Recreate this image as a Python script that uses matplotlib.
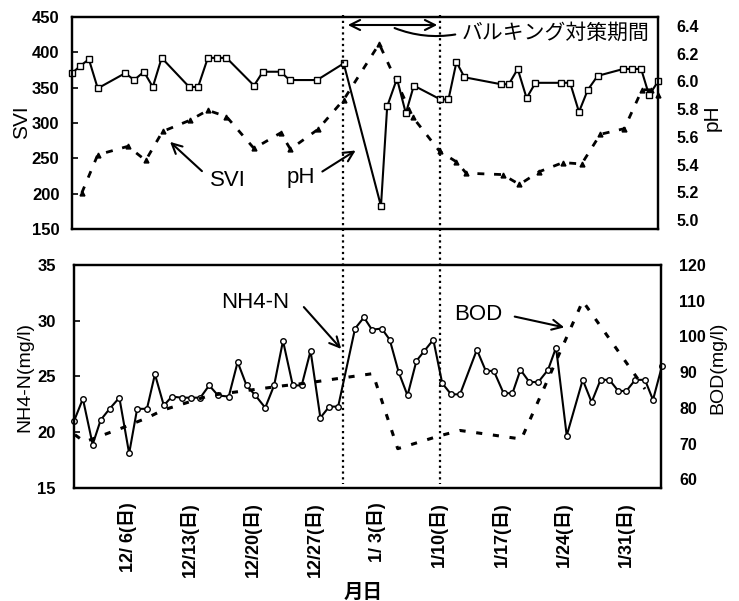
import matplotlib
matplotlib.use("Agg")
import matplotlib.pyplot as plt
from matplotlib.lines import Line2D
from matplotlib.transforms import blended_transform_factory

plt.rcParams['font.family'] = ['Liberation Sans', 'Noto Sans CJK JP']

# x = days counted from 11/30
ph_days = [0, 0.9, 1.9, 2.9, 6, 7, 8.1, 9.1, 10.1, 13.2, 14.2, 15.3, 16.3, 17.4,
           20.5, 21.5, 23.5, 24.5, 27.6, 30.6, 34.8, 35.5, 36.6, 37.6, 38.5,
           41.5, 42.4, 43.3, 44.2, 48.3, 49.2, 50.2, 51.2, 52.2, 55.1, 56.1,
           57.1, 58.1, 59.2, 62.1, 63.1, 64.1, 65, 66]
ph_values = [6.06, 6.11, 6.16, 5.95, 6.06, 6.01, 6.07, 5.96, 6.17, 5.96, 5.96, 6.17, 6.17, 6.17,
             5.97, 6.07, 6.07, 6.01, 6.01, 6.13, 5.10, 5.82, 6.02, 5.77, 5.97,
             5.87, 5.87, 6.14, 6.03, 5.98, 5.98, 6.09, 5.88, 5.99, 5.99, 5.99,
             5.78, 5.94, 6.04, 6.09, 6.09, 6.09, 5.90, 6.00]

svi_days = [1.1, 2.9, 6.3, 8.3, 10.2, 13.3, 15.3, 17.4, 20.5, 23.5, 24.6, 27.7, 30.6,
            34.6, 38.4, 41.4, 43.3, 44.4, 48.5, 50.4, 52.6, 55.3, 57.4, 59.5, 62.2,
            64.2, 65.2, 66]
svi_values = [201, 255, 267, 247, 288, 304, 318, 309, 264, 286, 263, 291, 333,
              412, 308, 260, 245, 229, 227, 213, 231, 244, 242, 284, 292,
              347, 347, 340]

nh4_days = [0.0, 1.0, 2.1, 3.0, 4.0, 5.1, 6.2, 7.1, 8.2, 9.1, 10.1, 11.0, 12.1, 13.1,
            14.2, 15.2, 16.2, 17.4, 18.4, 19.4, 20.4, 21.5, 22.5, 23.5, 24.6, 25.6,
            26.6, 27.7, 28.7, 29.7, 31.6, 32.6, 33.5, 34.6, 35.5, 36.5, 37.5, 38.5,
            39.4, 40.4, 41.4, 42.4, 43.4, 45.3, 46.3, 47.2, 48.3, 49.3, 50.2, 51.2,
            52.2, 53.3, 54.2, 55.4, 57.2, 58.2, 59.2, 60.2, 61.2, 62.1, 63.1, 64.2,
            65.1, 66.1]
nh4_values = [21.0, 23.0, 18.9, 21.1, 22.1, 23.1, 18.1, 22.1, 22.1, 25.2, 22.4, 23.2, 23.1, 23.1,
              23.1, 24.2, 23.3, 23.2, 26.3, 24.2, 23.3, 22.2, 24.2, 28.2, 24.2, 24.2,
              27.3, 21.3, 22.3, 22.3, 29.3, 30.3, 29.2, 29.3, 28.3, 25.4, 23.3, 26.4,
              27.3, 28.3, 24.4, 23.4, 23.4, 27.4, 25.5, 25.5, 23.5, 23.5, 25.6, 24.5,
              24.5, 25.6, 27.6, 19.7, 24.7, 22.7, 24.7, 24.7, 23.7, 23.7, 24.7, 24.7,
              22.9, 25.9]

bod_days = [0.1, 1.2, 5.4, 8.2, 10.0, 15.3, 20.7, 23.5, 26.0, 29.6, 33.6, 36.4,
            41.1, 43.4, 46.0, 50.3, 57.2, 64.2]
bod_values = [72.5, 70.5, 74.4, 77.2, 79.4, 83.5, 85.3, 86.2, 86.9, 88.2, 89.6, 68.6,
              72.2, 73.7, 72.8, 71.3, 109.9, 85.3]

tick_days = [6, 13, 20, 27, 34, 41, 48, 55, 62]
tick_labels = ["12/ 6(日)", "12/13(日)", "12/20(日)", "12/27(日)", "1/ 3(日)",
               "1/10(日)", "1/17(日)", "1/24(日)", "1/31(日)"]
period_days = [30.5, 41.4]

W, H = 739, 601
fig = plt.figure(figsize=(W / 100, H / 100), dpi=100)


def box(l, t, r, b):
    return [l / W, 1 - b / H, (r - l) / W, (b - t) / H]


def fp(x, y):
    return (x / W, 1 - y / H)


ax1 = fig.add_axes(box(72, 17, 658, 229))
ax2 = ax1.twinx()
ax3 = fig.add_axes(box(74, 265, 661, 488))
ax4 = ax3.twinx()

# top panel: SVI (dashed) and pH (solid)
ax1.plot(svi_days, svi_values, color='black', lw=2, ls=(0, (2.5, 3.5)),
         marker='^', ms=3.5, clip_on=False)
ax2.plot(ph_days, ph_values, color='black', lw=1.5, marker='s', ms=4,
         mfc='white', mec='black', mew=1, clip_on=False)

# bottom panel: NH4-N (solid) and BOD (dashed)
ax3.plot(nh4_days, nh4_values, color='black', lw=1.5, marker='o', ms=4,
         mfc='white', mec='black', mew=1, clip_on=False)
ax4.plot(bod_days, bod_values, color='black', lw=2.2, ls=(0, (2, 3.5)), clip_on=False)

for ax in (ax1, ax3):
    ax.set_xlim(0, 66)

ax1.set_ylim(150, 450)
ax1.set_yticks(range(150, 451, 50))
ax2.set_ylim(4.935, 6.465)
ax2.set_yticks([5.0, 5.2, 5.4, 5.6, 5.8, 6.0, 6.2, 6.4])
ax2.set_yticklabels([f"{v:.1f}" for v in [5.0, 5.2, 5.4, 5.6, 5.8, 6.0, 6.2, 6.4]])
ax3.set_ylim(15, 35)
ax3.set_yticks(range(15, 36, 5))
ax4.set_ylim(57.6, 120)
ax4.set_yticks(range(60, 121, 10))

ax1.set_xticks([])
ax3.set_xticks(tick_days)
ax3.set_xticklabels(tick_labels, rotation=90, fontsize=13, fontweight='bold')
ax3.tick_params(axis='x', length=0, pad=10)

ax1.tick_params(axis='y', direction='in', length=4, width=1.2, pad=9, labelsize=12)
ax3.tick_params(axis='y', direction='in', length=4, width=1.2, pad=13, labelsize=12)
for ax in (ax2, ax4):
    ax.tick_params(axis='y', length=0, pad=13, labelsize=11.5)

for ax in (ax1, ax2, ax3, ax4):
    for lab in ax.get_yticklabels():
        lab.set_fontweight('bold')
    for sp in ax.spines.values():
        sp.set_linewidth(1.6)

# axis titles
fig.text(*fp(22, 122), "SVI", rotation=90, ha='center', va='center', fontsize=15)
fig.text(*fp(712, 118), "pH", rotation=90, ha='center', va='center', fontsize=15)
fig.text(*fp(25, 377), "NH4-N(mg/l)", rotation=90, ha='center', va='center', fontsize=14)
fig.text(*fp(718, 368), "BOD(mg/l)", rotation=90, ha='center', va='center', fontsize=14)
fig.text(*fp(363, 593), "月日", ha='center', va='center', fontsize=14, fontweight='bold')

# dotted lines marking the period
trans = blended_transform_factory(ax1.transData, fig.transFigure)
for d in period_days:
    fig.add_artist(Line2D([d, d], [1 - 15 / H, 1 - 484 / H], transform=trans,
                          color='black', lw=1.6, ls=(0, (1, 1.6))))

arrow = dict(arrowstyle='->', lw=1.5, color='black', mutation_scale=18)

# double arrow and label for the bulking countermeasure period
ax1.annotate('', xy=fp(440, 25), xytext=fp(345, 25), xycoords='figure fraction',
             textcoords='figure fraction',
             arrowprops=dict(arrowstyle='<->', lw=1.5, color='black', mutation_scale=18))
ax1.annotate('', xy=fp(392, 27), xytext=fp(458, 34), xycoords='figure fraction',
             textcoords='figure fraction',
             arrowprops=dict(arrowstyle='-', lw=1.5, color='black',
                             connectionstyle='arc3,rad=-0.15'))
fig.text(*fp(556, 33), "バルキング対策期間", ha='center', va='center', fontsize=15)

# series annotations
fig.text(*fp(228, 181), "SVI", ha='center', va='center', fontsize=16)
ax1.annotate('', xy=fp(168, 140), xytext=fp(204, 173), xycoords='figure fraction',
             textcoords='figure fraction', arrowprops=arrow)
fig.text(*fp(301, 177), "pH", ha='center', va='center', fontsize=16)
ax1.annotate('', xy=fp(358, 149), xytext=fp(320, 173), xycoords='figure fraction',
             textcoords='figure fraction', arrowprops=arrow)

fig.text(*fp(255, 302), "NH4-N", ha='center', va='center', fontsize=16)
ax3.annotate('', xy=fp(343, 351), xytext=fp(302, 305), xycoords='figure fraction',
             textcoords='figure fraction', arrowprops=arrow)
fig.text(*fp(478, 315), "BOD", ha='center', va='center', fontsize=16)
ax3.annotate('', xy=fp(567, 328), xytext=fp(512, 316), xycoords='figure fraction',
             textcoords='figure fraction', arrowprops=arrow)

fig.savefig("out.png", dpi=100)
